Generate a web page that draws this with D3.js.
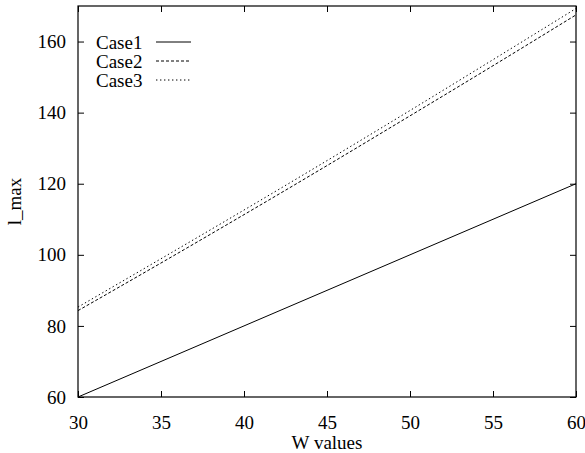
<!DOCTYPE html>
<html>
<head>
<meta charset="utf-8">
<script src="https://cdn.jsdelivr.net/npm/d3@7"></script>
<style>
  svg text { font-family: "Times New Roman", "Liberation Serif", Times, serif !important; font-size: 19px !important; }
</style>
</head>
<body style="margin:0;background:#fff">
<script>
var wValues = [30, 35, 40, 45, 50, 55, 60];
var case1 = [60, 70, 80, 90, 100, 110, 120];
var case2 = [84.3, 97.7, 111.3, 125.1, 139.1, 153.2, 167.5];
var case3 = [85.3, 98.9, 112.6, 126.5, 140.6, 154.9, 169.3];
var seriesNames = ["Case1", "Case2", "Case3"];
var xTicks = [30, 35, 40, 45, 50, 55, 60];
var yTicks = [60, 80, 100, 120, 140, 160];

var width = 585, height = 453;
var margin = { top: 6, right: 9, bottom: 56, left: 78 };
var innerW = width - margin.left - margin.right,
  innerH = height - margin.top - margin.bottom;

var dashes = ["none", "3,2", "1.4,2.6"];

function serif(sel) {
  sel.style("font-family", "'Times New Roman'")
    .style("font-size", "19px")
    .attr("fill", "#000");
}

var svg = d3.select("body").append("svg")
  .attr("width", width)
  .attr("height", height);

var g = svg.append("g")
  .attr("transform", "translate(" + margin.left + "," + margin.top + ")");

var x = d3.scaleLinear().domain([30, 60]).range([0, innerW]);
var y = d3.scaleLinear().domain([60, 170]).range([innerH, 0]);

// ticks point inwards on all four sides, gnuplot style
function styleAxis(sel) {
  sel.attr("font-family", null).attr("font-size", null);
  sel.select(".domain").remove();
  sel.selectAll("line").attr("stroke", "#000").attr("stroke-width", 1);
  sel.selectAll("text").call(serif);
}

g.append("g")
  .attr("transform", "translate(0," + innerH + ")")
  .call(d3.axisBottom(x).tickValues(xTicks).tickSize(-6).tickPadding(32).tickFormat(d3.format("d")))
  .call(styleAxis)
  .selectAll("text").attr("dy", 0);

g.append("g")
  .call(d3.axisTop(x).tickValues(xTicks).tickSize(-6).tickFormat(""))
  .call(styleAxis);

g.append("g")
  .call(d3.axisLeft(y).tickValues(yTicks).tickSize(-6).tickPadding(12).tickFormat(d3.format("d")))
  .call(styleAxis)
  .selectAll("text").attr("dy", "0.32em");

g.append("g")
  .attr("transform", "translate(" + innerW + ",0)")
  .call(d3.axisRight(y).tickValues(yTicks).tickSize(-6).tickFormat(""))
  .call(styleAxis);

var line = d3.line()
  .curve(d3.curveMonotoneX)
  .x(function(d) { return x(d[0]); })
  .y(function(d) { return y(d[1]); });

var series = [case1, case2, case3];
series.forEach(function(vals, i) {
  g.append("path")
    .datum(wValues.map(function(w, j) { return [w, vals[j]]; }))
    .attr("fill", "none")
    .attr("stroke", "#000")
    .attr("stroke-width", 1)
    .attr("stroke-dasharray", dashes[i])
    .attr("d", line);
});

g.append("rect")
  .attr("width", innerW)
  .attr("height", innerH)
  .attr("fill", "none")
  .attr("stroke", "#000")
  .attr("stroke-width", 1.2);

// legend
var legend = svg.append("g").attr("transform", "translate(96,42)");
seriesNames.forEach(function(name, i) {
  var row = legend.append("g").attr("transform", "translate(0," + (i * 19) + ")");
  row.append("text")
    .attr("x", 0)
    .attr("y", 7)
    .call(serif)
    .text(name);
  row.append("line")
    .attr("x1", 60).attr("x2", 95)
    .attr("y1", 0).attr("y2", 0)
    .attr("stroke", "#000")
    .attr("stroke-width", 1)
    .attr("stroke-dasharray", dashes[i]);
});

svg.append("text")
  .attr("x", margin.left + innerW / 2)
  .attr("y", 449)
  .attr("text-anchor", "middle")
  .call(serif)
  .text("W values");

svg.append("text")
  .attr("transform", "translate(21," + (margin.top + innerH / 2) + ") rotate(-90)")
  .attr("text-anchor", "middle")
  .call(serif)
  .text("l_max");
</script>
</body>
</html>
